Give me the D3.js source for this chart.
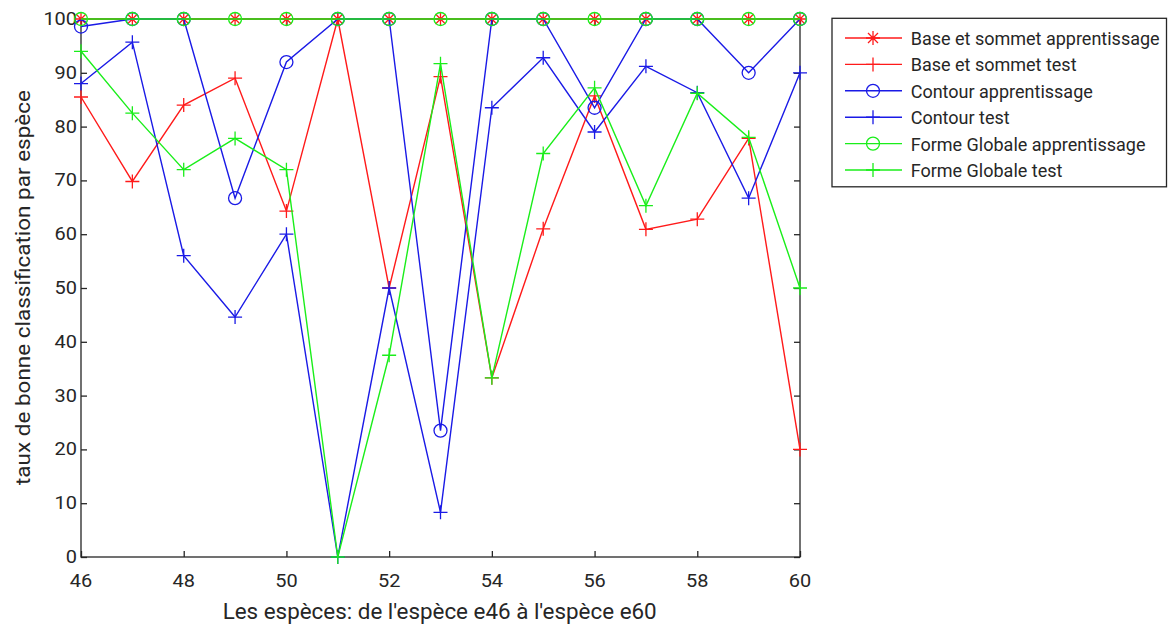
<!DOCTYPE html>
<html><head><meta charset="utf-8">
<script src="https://cdn.jsdelivr.net/npm/d3@7"></script>
<style>body{margin:0;background:#fff}svg{display:block}text{font-family:Roboto,"Liberation Sans",sans-serif}</style>
</head><body><svg id="c" width="1170" height="628"></svg>
<script>
const species = [46,47,48,49,50,51,52,53,54,55,56,57,58,59,60];
const baseApp   = [100,100,100,100,100,100,100,100,100,100,100,100,100,100,100];
const baseTest  = [85.5,69.8,84,89,64.3,100,50,89.3,33.3,61,85.7,60.9,62.8,77.8,20];
const contApp   = [98.6,100,100,66.7,92,100,100,23.5,100,100,83.5,100,100,90,100];
const contTest  = [88,95.7,56,44.6,60,0,50,8.3,83.5,92.8,79,91.2,86.3,66.7,90];
const formeApp  = [100,100,100,100,100,100,100,100,100,100,100,100,100,100,100];
const formeTest = [94,82.5,72,77.8,72,0,37.5,91.7,33.3,75,87.2,65.3,86.2,78,50];
const xTicks = [46,48,50,52,54,56,58,60];
const yTicks = [0,10,20,30,40,50,60,70,80,90,100];
const seriesNames = ["Base et sommet apprentissage","Base et sommet test","Contour apprentissage","Contour test","Forme Globale apprentissage","Forme Globale test"];

const RED="#ff1a1a", BLUE="#1a1ae6", GREEN="#1aee1a", INK="#262626";
const series = [
  {name:seriesNames[0], v:baseApp, c:RED, m:"star"},
  {name:seriesNames[1], v:baseTest, c:RED, m:"plus"},
  {name:seriesNames[2], v:contApp, c:BLUE, m:"circle"},
  {name:seriesNames[3], v:contTest, c:BLUE, m:"plus"},
  {name:seriesNames[4], v:formeApp, c:GREEN, m:"circle"},
  {name:seriesNames[5], v:formeTest, c:GREEN, m:"plus"}
];

const svg = d3.select("#c");
const L=81, R=800, T=19, B=557;
const x = d3.scaleLinear().domain([46,60]).range([L,R]);
const y = d3.scaleLinear().domain([0,100]).range([B,T]);

// axes box
svg.append("rect").attr("x",L).attr("y",T).attr("width",R-L).attr("height",B-T)
  .attr("fill","none").attr("stroke",INK).attr("stroke-width",1.3);

// tick marks
const ax = svg.append("g").attr("transform",`translate(0,${B})`)
  .call(d3.axisBottom(x).tickValues(xTicks).tickSizeInner(-6).tickSizeOuter(0).tickFormat(""));
const axT = svg.append("g").attr("transform",`translate(0,${T})`)
  .call(d3.axisTop(x).tickValues(xTicks).tickSizeInner(-6).tickSizeOuter(0).tickFormat(""));
const ay = svg.append("g").attr("transform",`translate(${L},0)`)
  .call(d3.axisLeft(y).tickValues(yTicks).tickSizeInner(-6).tickSizeOuter(0).tickFormat(""));
const ayR = svg.append("g").attr("transform",`translate(${R},0)`)
  .call(d3.axisRight(y).tickValues(yTicks).tickSizeInner(-6).tickSizeOuter(0).tickFormat(""));
[ax,axT,ay,ayR].forEach(a=>{
  a.select(".domain").remove();
  a.selectAll("line").attr("stroke",INK).attr("stroke-width",1.3);
});

// tick labels (slightly widened like the reference)
const SX = 1.14;
svg.append("g").selectAll("text").data(xTicks).join("text")
  .attr("transform",d=>`translate(${x(d)},587) scale(${SX},1)`)
  .attr("text-anchor","middle").attr("font-size",17.5).attr("fill",INK).text(d=>d);
svg.append("g").selectAll("text").data(yTicks).join("text")
  .attr("transform",d=>`translate(77,${y(d)+6}) scale(${SX},1)`)
  .attr("text-anchor","end").attr("font-size",17.5).attr("fill",INK).text(d=>d);

// markers
function marker(sel, type, c){
  if(type==="plus"){
    sel.append("path").attr("d","M-7,0H7M0,-7V7").attr("stroke",c).attr("stroke-width",1.3).attr("fill","none");
  } else if(type==="star"){
    sel.append("path").attr("d","M-7,0H7M0,-7V7M-5,-5L5,5M-5,5L5,-5").attr("stroke",c).attr("stroke-width",1.3).attr("fill","none");
  } else {
    sel.append("circle").attr("r",6.5).attr("stroke",c).attr("stroke-width",1.3).attr("fill","none");
  }
}
const line = d3.line().x((d,i)=>x(species[i])).y(d=>y(d));
series.forEach(s=>{
  const sg = svg.append("g");
  sg.append("path").attr("d",line(s.v)).attr("fill","none").attr("stroke",s.c).attr("stroke-width",1.4);
  s.v.forEach((v,i)=>{
    const mg = sg.append("g").attr("transform",`translate(${x(species[i])},${y(v)})`);
    marker(mg, s.m, s.c);
  });
});

// axis labels
svg.append("text").attr("x",439.7).attr("y",619).attr("text-anchor","middle")
  .attr("font-size",22).attr("fill",INK)
  .attr("textLength",434).attr("lengthAdjust","spacingAndGlyphs")
  .text("Les espèces: de l'espèce e46 à l'espèce e60");
svg.append("text").attr("transform",`translate(30,287.5) rotate(-90)`).attr("text-anchor","middle")
  .attr("font-size",19.5).attr("fill",INK)
  .attr("textLength",395).attr("lengthAdjust","spacingAndGlyphs")
  .text("taux de bonne classification par espèce");

// legend
const lg = svg.append("g");
lg.append("rect").attr("x",832).attr("y",18.3).attr("width",334.5).attr("height",168.5)
  .attr("fill","#fff").attr("stroke",INK).attr("stroke-width",1.3);
series.forEach((s,i)=>{
  const yy = 38 + i*26.4;
  lg.append("line").attr("x1",845).attr("x2",902).attr("y1",yy).attr("y2",yy).attr("stroke",s.c).attr("stroke-width",1.4);
  marker(lg.append("g").attr("transform",`translate(873,${yy})`), s.m, s.c);
  lg.append("text").attr("x",910.7).attr("y",yy+7).attr("font-size",18).attr("fill",INK).text(s.name);
});
</script></body></html>
